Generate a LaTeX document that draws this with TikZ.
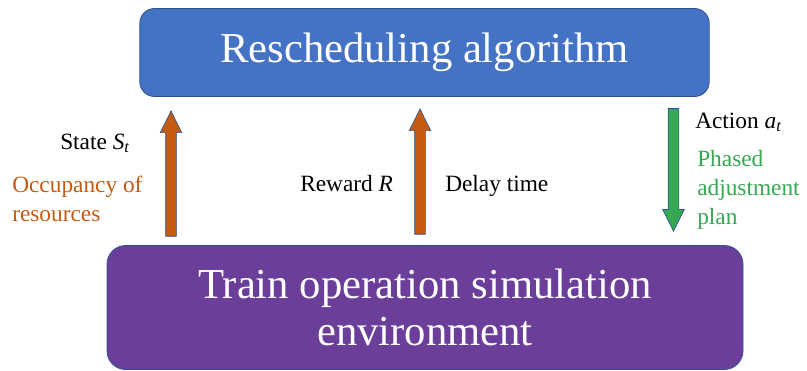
\documentclass[tikz,border=0pt]{standalone}
\usepackage{fontspec}
\setmainfont{Liberation Serif}
\usetikzlibrary{shapes.arrows}

\definecolor{algblue}{HTML}{4472C4}
\definecolor{edgeblue}{HTML}{2F528F}
\definecolor{envpurple}{HTML}{6B3F99}
\definecolor{rustorange}{HTML}{C55A11}
\definecolor{plangreen}{HTML}{36A852}

\begin{document}
\begin{tikzpicture}[
    x=0.75pt,y=-0.75pt,
    bigbox/.style={draw=edgeblue,line width=0.6pt,rounded corners=11pt,align=center,text=white,inner sep=0pt},
    blockarrow/.style={single arrow,draw=edgeblue,line width=0.5pt,inner xsep=0pt,inner ysep=3.75pt,
      single arrow head extend=4.1pt,single arrow head indent=0pt,single arrow tip angle=53,
      minimum height=94pt},
    lbl/.style={font=\fontsize{17.5}{21.5}\selectfont,align=left,inner sep=0pt}
  ]
    \useasboundingbox (0,0) rectangle (807,371);

    \node[bigbox,fill=algblue,minimum width=427pt,minimum height=66pt,
      font=\fontsize{32}{35}\selectfont] (alg) at (424.5,52.5) {Rescheduling algorithm};
    \node[bigbox,fill=envpurple,minimum width=477pt,minimum height=93pt,rounded corners=14pt,
      font=\fontsize{32}{35}\selectfont] (env) at (425,307.5) {Train operation simulation\\environment};

    % block arrows between the two boxes
    \node[blockarrow,fill=rustorange,rotate=90] (state) at (171,179) {};
    \node[blockarrow,fill=rustorange,rotate=90] (reward) at (420,177) {};
    \node[blockarrow,fill=plangreen,rotate=-90,minimum height=92pt] (action) at (673.5,164.5) {};

    \node[lbl,anchor=base west] (st) at (60,149) {State {\itshape S}\textsubscript{\itshape t}};
    \node[lbl,anchor=base west,text=rustorange] (occ) at (12,221) {Occupancy of\\resources};
    \node[lbl,anchor=base west] (rw) at (300,191) {Reward {\itshape R}};
    \node[lbl,anchor=base west] (dl) at (445,191) {Delay time};
    \node[lbl,anchor=base west] (act) at (695,128) {Action {\itshape a}\textsubscript{\itshape t}};
    \node[lbl,anchor=base west,text=plangreen] (pl) at (697,224) {Phased\\adjustment\\plan};
\end{tikzpicture}
\end{document}
